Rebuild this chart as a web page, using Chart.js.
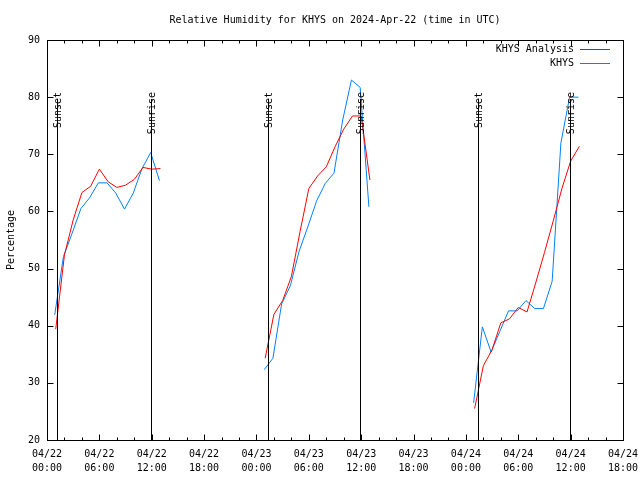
<!DOCTYPE html>
<html>
<head>
<meta charset="utf-8">
<script src="https://cdn.jsdelivr.net/npm/chart.js@4/dist/chart.umd.min.js"></script>
<style>
html, body { margin: 0; padding: 0; background: #fff; }
</style>
</head>
<body>
<canvas id="rhChart" width="640" height="480"></canvas>
<script>
// Analysis (hourly, on the hour)
const analysisTimes = [
    '04/22 01:00', '04/22 02:00', '04/22 03:00', '04/22 04:00', '04/22 05:00', '04/22 06:00', '04/22 07:00',
    '04/22 08:00', '04/22 09:00', '04/22 10:00', '04/22 11:00', '04/22 12:00', '04/22 13:00',
    '04/23 01:00', '04/23 02:00', '04/23 03:00', '04/23 04:00', '04/23 05:00', '04/23 06:00', '04/23 07:00',
    '04/23 08:00', '04/23 09:00', '04/23 10:00', '04/23 11:00', '04/23 12:00', '04/23 13:00',
    '04/24 01:00', '04/24 02:00', '04/24 03:00', '04/24 04:00', '04/24 05:00', '04/24 06:00', '04/24 07:00',
    '04/24 08:00', '04/24 09:00', '04/24 10:00', '04/24 11:00', '04/24 12:00', '04/24 13:00'
];
const analysisValues = [
    39.4, 52.4, 58.5, 63.3, 64.4, 67.4, 65.2, 64.2, 64.6, 65.6, 67.7, 67.4, 67.5,
    34.3, 42.0, 44.4, 48.6, 56.5, 64.0, 66.2, 67.8, 71.3, 74.4, 76.7, 76.7, 65.5,
    25.5, 33.0, 35.8, 40.5, 41.2, 43.2, 42.4, 47.5, 52.8, 58.3, 64.0, 68.8, 71.4
];

// Station observations (hourly, at :53)
const obsTimes = [
    '04/22 00:53', '04/22 01:53', '04/22 02:53', '04/22 03:53', '04/22 04:53', '04/22 05:53', '04/22 06:53',
    '04/22 07:53', '04/22 08:53', '04/22 09:53', '04/22 10:53', '04/22 11:53', '04/22 12:53',
    '04/23 00:53', '04/23 01:53', '04/23 02:53', '04/23 03:53', '04/23 04:53', '04/23 05:53', '04/23 06:53',
    '04/23 07:53', '04/23 08:53', '04/23 09:53', '04/23 10:53', '04/23 11:53', '04/23 12:53',
    '04/24 00:53', '04/24 01:53', '04/24 02:53', '04/24 03:53', '04/24 04:53', '04/24 05:53', '04/24 06:53',
    '04/24 07:53', '04/24 08:53', '04/24 09:53', '04/24 10:53', '04/24 11:53', '04/24 12:53'
];
const obsValues = [
    41.9, 52.1, 56.2, 60.5, 62.4, 65.0, 65.0, 63.2, 60.4, 63.2, 67.5, 70.3, 65.4,
    32.3, 34.3, 43.8, 47.0, 53.0, 57.3, 61.8, 64.9, 66.7, 76.0, 83.0, 81.7, 60.8,
    26.5, 39.8, 35.4, 39.0, 42.6, 42.6, 44.4, 43.0, 43.0, 47.8, 72.0, 80.0, 80.0
];

const sunsetTimes = ['04/22 01:11', '04/23 01:17', '04/24 01:20'];
const sunriseTimes = ['04/22 11:56', '04/23 11:53', '04/24 11:56'];

const xTickDays = ['04/22', '04/23', '04/24'];
const yTicks = [20, 30, 40, 50, 60, 70, 80, 90];

const FONT = '10px "DejaVu Sans Mono", monospace';

// heures depuis 04/22 00:00
function hoursSinceStart(s) {
    const parts = s.split(' ');
    const day = Number(parts[0].split('/')[1]);
    const hm = parts[1].split(':').map(Number);
    return (day - 22) * 24 + hm[0] + hm[1] / 60;
}

// coupe la courbe entre les jours
function toPoints(times, values) {
    const pts = [];
    let prevX = null;
    times.forEach((t, i) => {
        const x = hoursSinceStart(t);
        if (prevX !== null && x - prevX > 3) {
            pts.push({ x: (x + prevX) / 2, y: null });
        }
        pts.push({ x: x, y: values[i] });
        prevX = x;
    });
    return pts;
}

const gnuplotFrame = {
    id: 'gnuplotFrame',
    afterDatasetsDraw(chart) {
        const ctx = chart.ctx;
        const a = chart.chartArea;
        const xs = chart.scales.x;
        const ys = chart.scales.y;
        ctx.save();
        ctx.strokeStyle = '#000';
        ctx.fillStyle = '#000';
        ctx.lineWidth = 1;

        // lignes lever / coucher du soleil
        const events = sunsetTimes.map(t => ({ t: t, label: 'Sunset' }))
            .concat(sunriseTimes.map(t => ({ t: t, label: 'Sunrise' })));
        events.forEach(ev => {
            const px = Math.round(xs.getPixelForValue(hoursSinceStart(ev.t))) + 0.5;
            ctx.beginPath();
            ctx.moveTo(px, a.bottom);
            ctx.lineTo(px, 99);
            ctx.stroke();
            ctx.save();
            ctx.translate(px + 1, 92);
            ctx.rotate(-Math.PI / 2);
            ctx.font = FONT;
            ctx.textAlign = 'right';
            ctx.textBaseline = 'middle';
            ctx.fillText(ev.label, 0, 0);
            ctx.restore();
        });

        // cadre
        const L = Math.round(a.left) + 0.5, R = Math.round(a.right) + 0.5;
        const T = Math.round(a.top) + 0.5, B = Math.round(a.bottom) + 0.5;
        ctx.strokeRect(L, T, R - L, B - T);

        // graduations x (majeures 6h, mineures 2h)
        ctx.beginPath();
        for (let h = 0; h <= 66; h += 2) {
            const px = Math.round(xs.getPixelForValue(h)) + 0.5;
            const len = (h % 6 === 0) ? 6 : 3;
            ctx.moveTo(px, B); ctx.lineTo(px, B - len);
            ctx.moveTo(px, T); ctx.lineTo(px, T + len);
        }
        // graduations y
        yTicks.forEach(v => {
            const py = Math.round(ys.getPixelForValue(v)) + 0.5;
            ctx.moveTo(L, py); ctx.lineTo(L + 6, py);
            ctx.moveTo(R, py); ctx.lineTo(R - 6, py);
        });
        ctx.stroke();

        // titre
        ctx.font = FONT;
        ctx.textAlign = 'center';
        ctx.textBaseline = 'middle';
        ctx.fillText('Relative Humidity for KHYS on 2024-Apr-22 (time in UTC)', (a.left + a.right) / 2, 20);

        // titre axe y
        ctx.save();
        ctx.translate(11, (a.top + a.bottom) / 2);
        ctx.rotate(-Math.PI / 2);
        ctx.fillText('Percentage', 0, 0);
        ctx.restore();

        // légende
        chart.data.datasets.forEach((ds, i) => {
            const y = 49 + i * 14;
            ctx.fillStyle = '#000';
            ctx.textAlign = 'right';
            ctx.fillText(ds.label, 574, y);
            ctx.strokeStyle = ds.borderColor;
            ctx.beginPath();
            ctx.moveTo(580, y + 0.5);
            ctx.lineTo(610, y + 0.5);
            ctx.stroke();
        });
        ctx.restore();
    }
};

const ctx = document.getElementById('rhChart').getContext('2d');
Chart.defaults.font.family = '"DejaVu Sans Mono", monospace';
Chart.defaults.font.size = 10;
Chart.defaults.color = '#000';

new Chart(ctx, {
    type: 'scatter',
    data: {
        datasets: [
            {
                label: 'KHYS Analysis',
                data: toPoints(analysisTimes, analysisValues),
                showLine: true,
                borderColor: '#ff0000',
                borderWidth: 1,
                pointRadius: 0,
                spanGaps: false
            },
            {
                label: 'KHYS',
                data: toPoints(obsTimes, obsValues),
                showLine: true,
                borderColor: '#0080ff',
                borderWidth: 1,
                pointRadius: 0,
                spanGaps: false
            }
        ]
    },
    options: {
        responsive: false,
        animation: false,
        layout: { padding: { top: 40, right: 17, left: 0, bottom: 0 } },
        plugins: {
            legend: { display: false },
            tooltip: { enabled: false }
        },
        scales: {
            x: {
                type: 'linear',
                min: 0,
                max: 66,
                grid: { display: false, drawTicks: false },
                border: { display: false },
                afterFit: function(scale) {
                    scale.height = 40;
                    scale.paddingLeft = 0;
                    scale.paddingRight = 0;
                },
                ticks: {
                    stepSize: 6,
                    autoSkip: false,
                    maxRotation: 0,
                    padding: 7,
                    font: { lineHeight: 1.4 },
                    callback: function(value) {
                        const day = xTickDays[Math.floor(value / 24)] || '04/25';
                        const hh = String(value % 24).padStart(2, '0');
                        return [day, hh + ':00'];
                    }
                }
            },
            y: {
                min: 20,
                max: 90,
                grid: { display: false, drawTicks: false },
                border: { display: false },
                afterFit: function(scale) {
                    scale.width = 47;
                    scale.paddingTop = 0;
                    scale.paddingBottom = 0;
                },
                afterBuildTicks: function(scale) {
                    scale.ticks = yTicks.map(v => ({ value: v }));
                },
                ticks: { padding: 7 }
            }
        }
    },
    plugins: [gnuplotFrame]
});
</script>
</body>
</html>
